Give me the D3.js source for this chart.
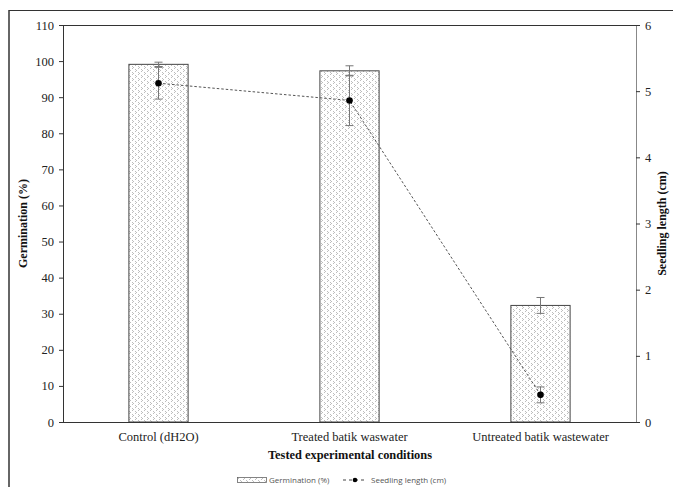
<!DOCTYPE html>
<html><head><meta charset="utf-8">
<script src="https://cdn.jsdelivr.net/npm/d3@7"></script>
<style>body{margin:0;background:#fff}svg{display:block}</style>
</head><body><svg id="c" width="673" height="487"></svg>
<script>
const categories = ["Control (dH2O)", "Treated batik waswater", "Untreated batik wastewater"];
const germination = [99.1, 97.3, 32.3];
const germinationErr = [0.6, 1.4, 2.2];
const seedling = [5.12, 4.86, 0.41];
const seedlingErr = [0.24, 0.38, 0.12];
const leftTicks = [0,10,20,30,40,50,60,70,80,90,100,110];
const rightTicks = [0,1,2,3,4,5,6];

const svg = d3.select("#c");
const L = 63, R = 636, T = 25, B = 422;
const x = d3.scaleBand().domain(categories).range([L, R]).paddingInner(0.69).paddingOuter(0.345);
const y = d3.scaleLinear().domain([0,110]).range([B, T]);
const y2 = d3.scaleLinear().domain([0,6]).range([B, T]);
const serif = "'Liberation Serif', 'Times New Roman', serif";

// outer frame (cropped)
svg.append("line").attr("x1",9).attr("x2",9).attr("y1",10).attr("y2",487).attr("stroke","#666").attr("stroke-width",2);
svg.append("line").attr("x1",9).attr("x2",673).attr("y1",10.5).attr("y2",10.5).attr("stroke","#333").attr("stroke-width",1);

// pattern
const defs = svg.append("defs");
const pat = defs.append("pattern").attr("id","dots").attr("patternUnits","userSpaceOnUse").attr("width",6).attr("height",6);
pat.append("rect").attr("width",6).attr("height",6).attr("fill","#fff");
[[0,0],[1,1],[0,2],[3,3],[4,4],[3,5]].forEach(([a,b])=>
  pat.append("rect").attr("x",a).attr("y",b).attr("width",1).attr("height",1).attr("fill","#bdbdbd"));

// plot frame top
svg.append("line").attr("x1",L).attr("x2",R).attr("y1",T+0.5).attr("y2",T+0.5).attr("stroke","#333");

// bars
svg.selectAll("rect.bar").data(categories).enter().append("rect").attr("class","bar")
  .attr("x", d=>x(d)).attr("width", x.bandwidth())
  .attr("y", (d,i)=>y(germination[i])).attr("height",(d,i)=>B - y(germination[i]))
  .attr("fill","url(#dots)").attr("stroke","#444").attr("stroke-width",1);

// germination error bars
const cx = d => x(d) + x.bandwidth()/2;
categories.forEach((d,i)=>{
  const g = svg.append("g").attr("stroke","#777").attr("stroke-width",1);
  const t = y(germination[i]+germinationErr[i]), b = y(germination[i]-germinationErr[i]);
  g.append("line").attr("x1",cx(d)).attr("x2",cx(d)).attr("y1",t).attr("y2",b);
  g.append("line").attr("x1",cx(d)-4).attr("x2",cx(d)+4).attr("y1",t).attr("y2",t);
  g.append("line").attr("x1",cx(d)-4).attr("x2",cx(d)+4).attr("y1",b).attr("y2",b);
});

// seedling line
const line = d3.line().x((d,i)=>cx(categories[i])).y(d=>y2(d));
svg.append("path").datum(seedling).attr("d",line).attr("fill","none").attr("stroke","#555").attr("stroke-width",1).attr("stroke-dasharray","2.5,2");
categories.forEach((d,i)=>{
  const g = svg.append("g").attr("stroke","#777").attr("stroke-width",1);
  const t = y2(seedling[i]+seedlingErr[i]), b = y2(seedling[i]-seedlingErr[i]);
  g.append("line").attr("x1",cx(d)).attr("x2",cx(d)).attr("y1",t).attr("y2",b);
  g.append("line").attr("x1",cx(d)-4).attr("x2",cx(d)+4).attr("y1",t).attr("y2",t);
  g.append("line").attr("x1",cx(d)-4).attr("x2",cx(d)+4).attr("y1",b).attr("y2",b);
});
svg.selectAll("circle.pt").data(seedling).enter().append("circle").attr("class","pt")
  .attr("cx",(d,i)=>cx(categories[i])).attr("cy",d=>y2(d)).attr("r",3.3).attr("fill","#000");

// axes
const ax = svg.append("g").attr("transform",`translate(${L},0)`).call(d3.axisLeft(y).tickValues(leftTicks).tickSize(4).tickPadding(5));
const ax2 = svg.append("g").attr("transform",`translate(${R},0)`).call(d3.axisRight(y2).tickValues(rightTicks).tickSize(4).tickPadding(5).tickFormat(d3.format("d")));
const axb = svg.append("g").attr("transform",`translate(0,${B})`).call(d3.axisBottom(x).tickSize(0).tickPadding(10));
[ax,ax2,axb].forEach(a=>{
  a.selectAll("text").attr("font-family",serif).attr("font-size",12.5).attr("fill","#222");
  a.select(".domain").attr("stroke","#333");
  a.selectAll(".tick line").attr("stroke","#333");
});
ax2.select(".domain").attr("stroke","#888");
axb.select(".domain").attr("d",`M${L},0.5H${R}`);

// titles
svg.append("text").attr("x",350).attr("y",459).attr("text-anchor","middle").attr("font-family",serif)
  .attr("font-weight","bold").attr("font-size",12.4).attr("fill","#111").text("Tested experimental  conditions");
svg.append("text").attr("transform",`translate(27,${(T+B)/2}) rotate(-90)`).attr("text-anchor","middle").attr("font-family",serif)
  .attr("font-weight","bold").attr("font-size",12).attr("fill","#111").text("Germination  (%)");
svg.append("text").attr("transform",`translate(666,${(T+B)/2}) rotate(-90)`).attr("text-anchor","middle").attr("font-family",serif)
  .attr("font-weight","bold").attr("font-size",12).attr("fill","#111").text("Seedling length (cm)");

// legend
const lg = svg.append("g").attr("font-family","'Open Sans', 'Liberation Sans', sans-serif").attr("font-size",8).attr("fill","#555");
lg.append("rect").attr("x",237.5).attr("y",477.5).attr("width",29).attr("height",5).attr("fill","url(#dots)").attr("stroke","#666").attr("stroke-width",0.8);
lg.append("text").attr("x",269).attr("y",483).text("Germination (%)");
lg.append("line").attr("x1",343).attr("x2",367).attr("y1",480).attr("y2",480).attr("stroke","#444").attr("stroke-dasharray","3,3");
lg.append("circle").attr("cx",355).attr("cy",480).attr("r",2.3).attr("fill","#000");
lg.append("text").attr("x",371).attr("y",483).text("Seedling length (cm)");
</script></body></html>
